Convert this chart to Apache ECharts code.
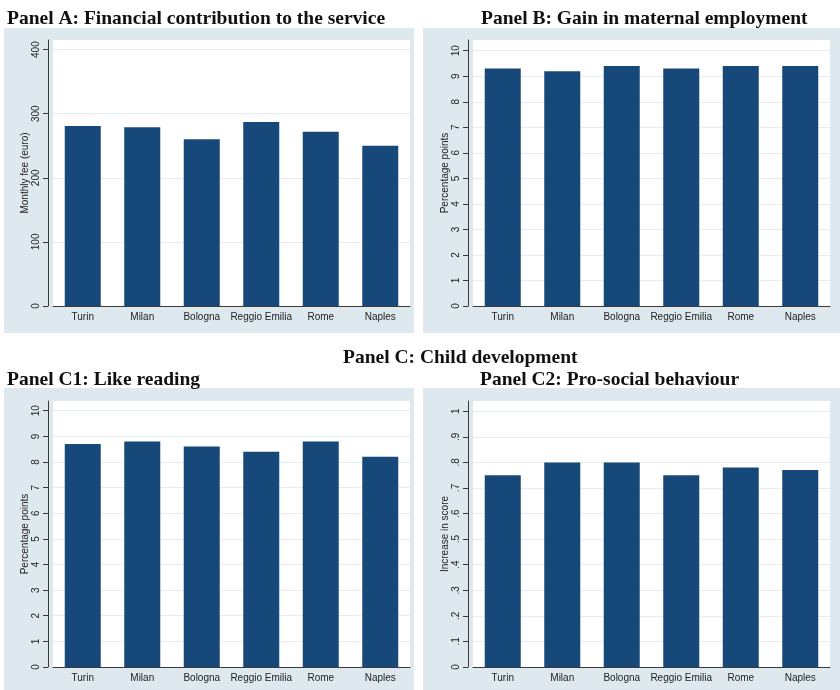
<!DOCTYPE html>
<html><head><meta charset="utf-8">
<script src="https://cdn.jsdelivr.net/npm/echarts@6/dist/echarts.min.js"></script>
<style>
body{margin:0;background:#fff;}
#wrap{position:relative;width:840px;height:690px;overflow:hidden;}
.bg{position:absolute;background:#dde9ee;}
#chart{position:absolute;left:0;top:0;width:840px;height:690px;}
</style></head><body>
<div id="wrap">
<div class="bg" style="left:4px;top:28px;width:410px;height:305px"></div>
<div class="bg" style="left:423px;top:28px;width:417px;height:305px"></div>
<div class="bg" style="left:4px;top:388px;width:410px;height:302px"></div>
<div class="bg" style="left:423px;top:388px;width:417px;height:302px"></div>
<div id="chart"></div>
</div>
<script>
const categories = ['Turin', 'Milan', 'Bologna', 'Reggio Emilia', 'Rome', 'Naples'];
const feeEuro = [281, 279, 260, 287, 272, 250];
const employmentGain = [9.3, 9.2, 9.4, 9.3, 9.4, 9.4];
const likeReading = [8.7, 8.8, 8.6, 8.4, 8.8, 8.2];
const proSocial = [0.75, 0.80, 0.80, 0.75, 0.78, 0.77];

const feeTicks = [0, 100, 200, 300, 400];
const pointTicks = [0, 1, 2, 3, 4, 5, 6, 7, 8, 9, 10];
const scoreTicks = [0, 0.1, 0.2, 0.3, 0.4, 0.5, 0.6, 0.7, 0.8, 0.9, 1];

const panelTitles = [
  'Panel A: Financial contribution to the service',
  'Panel B: Gain in maternal employment',
  'Panel C: Child development',
  'Panel C1: Like reading',
  'Panel C2: Pro-social behaviour'
];
const yNames = ['Monthly fee (euro)', 'Percentage points', 'Percentage points', 'Increase in score'];

const barColor = '#16497a';
const axisColor = '#3a3a3a';
const textColor = '#222';
const gridColor = '#e4edf1';

const chart = echarts.init(document.getElementById('chart'), null, {renderer: 'canvas'});

const grids = [
  {left: 53, top: 40, width: 357, height: 266},
  {left: 473, top: 40, width: 357, height: 266},
  {left: 53, top: 401, width: 357, height: 266},
  {left: 473, top: 401, width: 357, height: 266}
].map(g => Object.assign({show: true, backgroundColor: '#ffffff', borderWidth: 0}, g));

function fmtScore(v) {
  if (Math.abs(v) < 1e-9) return '0';
  if (Math.abs(v - 1) < 1e-9) return '1';
  return v.toFixed(1).replace(/^0\./, '.');
}

function makeY(idx, ticks, max, fmt) {
  return {
    type: 'value', gridIndex: idx, min: 0, max: max,
    interval: ticks[1] - ticks[0],
    offset: 5,
    name: yNames[idx], nameLocation: 'middle', nameRotate: 90, nameGap: 18,
    nameTextStyle: {fontFamily: 'Liberation Sans', fontSize: 10, color: textColor},
    axisLine: {show: true, lineStyle: {color: axisColor, width: 1}},
    axisTick: {show: true, length: 5, lineStyle: {color: axisColor}, customValues: ticks},
    axisLabel: {
      rotate: 90, margin: 7, fontFamily: 'Liberation Sans', fontSize: 10, color: textColor,
      customValues: ticks,
      formatter: v => {
        const hit = ticks.some(t => Math.abs(t - v) < 1e-9);
        if (!hit) return '';
        return fmt ? fmt(v) : String(v);
      }
    },
    splitLine: {show: true, lineStyle: {color: gridColor, width: 1}}
  };
}

function makeX(idx) {
  return {
    type: 'category', gridIndex: idx, data: categories,
    axisLine: {show: true, onZero: false, lineStyle: {color: axisColor, width: 1}},
    axisTick: {show: false},
    axisLabel: {fontFamily: 'Liberation Sans', fontSize: 10, color: textColor, margin: 6, interval: 0},
    splitLine: {show: false}
  };
}

const seriesData = [feeEuro, employmentGain, likeReading, proSocial];

const titleStyle = {fontFamily: 'Liberation Serif', fontWeight: 'bold', fontSize: 19.5, color: '#111'};

chart.setOption({
  animation: false,
  backgroundColor: 'transparent',
  title: [
    {text: panelTitles[0], left: 2, top: 4, textStyle: titleStyle},
    {text: panelTitles[1], left: 476, top: 4, textStyle: titleStyle},
    {text: panelTitles[2], left: 338, top: 343, textStyle: titleStyle},
    {text: panelTitles[3], left: 2, top: 365, textStyle: titleStyle},
    {text: panelTitles[4], left: 475, top: 365, textStyle: titleStyle}
  ],
  grid: grids,
  xAxis: [makeX(0), makeX(1), makeX(2), makeX(3)],
  yAxis: [
    makeY(0, feeTicks, 415),
    makeY(1, pointTicks, 10.42),
    makeY(2, pointTicks, 10.38),
    makeY(3, scoreTicks, 1.04, fmtScore)
  ],
  series: seriesData.map((d, i) => ({
    type: 'bar', xAxisIndex: i, yAxisIndex: i, data: d,
    barWidth: 36,
    itemStyle: {color: barColor}
  }))
});
</script>
</body></html>
